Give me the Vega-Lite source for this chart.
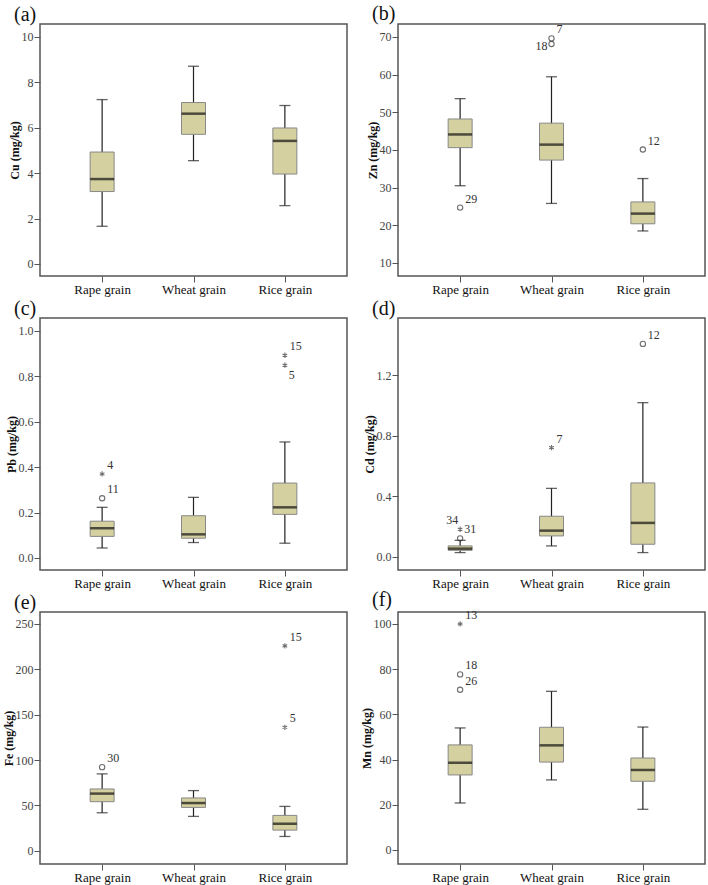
{
  "$schema": "https://vega.github.io/schema/vega-lite/v6.json",
  "background": "white",
  "padding": {"left": 1, "top": 3, "right": 0, "bottom": 0},
  "columns": 2,
  "bounds": "flush",
  "spacing": {"row": 42, "column": 51},
  "datasets": {
    "stats": [
      {"el": "Cu", "grain": "Rape grain", "min": 1.66, "q1": 3.19, "median": 3.74, "q3": 4.93, "max": 7.24},
      {"el": "Cu", "grain": "Wheat grain", "min": 4.55, "q1": 5.71, "median": 6.62, "q3": 7.11, "max": 8.71},
      {"el": "Cu", "grain": "Rice grain", "min": 2.57, "q1": 3.96, "median": 5.42, "q3": 5.99, "max": 6.98},
      {"el": "Zn", "grain": "Rape grain", "min": 30.5, "q1": 40.6, "median": 44.1, "q3": 48.2, "max": 53.6},
      {"el": "Zn", "grain": "Wheat grain", "min": 25.8, "q1": 37.3, "median": 41.4, "q3": 47.1, "max": 59.4},
      {"el": "Zn", "grain": "Rice grain", "min": 18.5, "q1": 20.4, "median": 23.1, "q3": 26.2, "max": 32.4},
      {"el": "Pb", "grain": "Rape grain", "min": 0.044, "q1": 0.095, "median": 0.131, "q3": 0.162, "max": 0.223},
      {"el": "Pb", "grain": "Wheat grain", "min": 0.068, "q1": 0.087, "median": 0.104, "q3": 0.186, "max": 0.267},
      {"el": "Pb", "grain": "Rice grain", "min": 0.065, "q1": 0.192, "median": 0.223, "q3": 0.33, "max": 0.511},
      {"el": "Cd", "grain": "Rape grain", "min": 0.029, "q1": 0.044, "median": 0.055, "q3": 0.073, "max": 0.11},
      {"el": "Cd", "grain": "Wheat grain", "min": 0.073, "q1": 0.139, "median": 0.174, "q3": 0.269, "max": 0.453},
      {"el": "Cd", "grain": "Rice grain", "min": 0.029, "q1": 0.084, "median": 0.225, "q3": 0.489, "max": 1.019},
      {"el": "Fe", "grain": "Rape grain", "min": 42.0, "q1": 54.2, "median": 63.1, "q3": 68.2, "max": 84.8},
      {"el": "Fe", "grain": "Wheat grain", "min": 38.0, "q1": 47.9, "median": 52.7, "q3": 58.3, "max": 66.4},
      {"el": "Fe", "grain": "Rice grain", "min": 15.9, "q1": 22.9, "median": 29.9, "q3": 39.1, "max": 49.0},
      {"el": "Mn", "grain": "Rape grain", "min": 20.8, "q1": 33.2, "median": 38.6, "q3": 46.5, "max": 54.0},
      {"el": "Mn", "grain": "Wheat grain", "min": 31.0, "q1": 38.9, "median": 46.3, "q3": 54.3, "max": 70.2},
      {"el": "Mn", "grain": "Rice grain", "min": 18.0, "q1": 30.4, "median": 35.4, "q3": 40.7, "max": 54.4}
    ],
    "out": [
      {"el": "Zn", "grain": "Rape grain", "value": 24.7, "kind": "outlier", "label": "29"},
      {"el": "Zn", "grain": "Wheat grain", "value": 68.1, "kind": "outlier", "label": "18"},
      {"el": "Zn", "grain": "Wheat grain", "value": 69.6, "kind": "outlier", "label": "7"},
      {"el": "Zn", "grain": "Rice grain", "value": 40.1, "kind": "outlier", "label": "12"},
      {"el": "Pb", "grain": "Rape grain", "value": 0.263, "kind": "outlier", "label": "11"},
      {"el": "Pb", "grain": "Rape grain", "value": 0.37, "kind": "extreme", "label": "4"},
      {"el": "Pb", "grain": "Rice grain", "value": 0.893, "kind": "extreme", "label": "15"},
      {"el": "Pb", "grain": "Rice grain", "value": 0.849, "kind": "extreme", "label": "5"},
      {"el": "Cd", "grain": "Rape grain", "value": 0.123, "kind": "outlier", "label": "34"},
      {"el": "Cd", "grain": "Rape grain", "value": 0.183, "kind": "extreme", "label": "31"},
      {"el": "Cd", "grain": "Wheat grain", "value": 0.722, "kind": "extreme", "label": "7"},
      {"el": "Cd", "grain": "Rice grain", "value": 1.407, "kind": "outlier", "label": "12"},
      {"el": "Fe", "grain": "Rape grain", "value": 92.2, "kind": "outlier", "label": "30"},
      {"el": "Fe", "grain": "Rice grain", "value": 225.7, "kind": "extreme", "label": "15"},
      {"el": "Fe", "grain": "Rice grain", "value": 136.1, "kind": "extreme", "label": "5"},
      {"el": "Mn", "grain": "Rape grain", "value": 100.0, "kind": "extreme", "label": "13"},
      {"el": "Mn", "grain": "Rape grain", "value": 77.7, "kind": "outlier", "label": "18"},
      {"el": "Mn", "grain": "Rape grain", "value": 70.9, "kind": "outlier", "label": "26"}
    ]
  },
  "concat": [
    {
      "title": {"text": "(a)"},
      "width": 307, "height": 252,
      "encoding": {"x": {"field": "grain", "type": "nominal", "sort": ["Rape grain", "Wheat grain", "Rice grain"], "scale": {"type": "point", "padding": 0.68}, "axis": {"title": null}}},
      "layer": [
        {"data": {"name": "stats"}, "transform": [{"filter": "datum.el==='Cu'"}], "mark": {"type": "rule", "color": "#222", "strokeWidth": 1.2},
         "encoding": {"y": {"field": "min", "type": "quantitative", "scale": {"domain": [-0.53, 10.57], "nice": false, "zero": false}, "axis": {"title": "Cu (mg/kg)", "values": [0, 2, 4, 6, 8, 10]}}, "y2": {"field": "max"}}},
        {"data": {"name": "stats"}, "transform": [{"filter": "datum.el==='Cu'"}], "mark": {"type": "bar", "size": 24, "fill": "#d5d09f", "stroke": "#888", "strokeWidth": 1},
         "encoding": {"y": {"field": "q1", "type": "quantitative"}, "y2": {"field": "q3"}}},
        {"data": {"name": "stats"}, "transform": [{"filter": "datum.el==='Cu'"}], "mark": {"type": "tick", "size": 24, "thickness": 2.5, "color": "#111"},
         "encoding": {"y": {"field": "median", "type": "quantitative"}}},
        {"data": {"name": "stats"}, "transform": [{"filter": "datum.el==='Cu'"}], "mark": {"type": "tick", "size": 11, "thickness": 1.3, "color": "#222"},
         "encoding": {"y": {"field": "min", "type": "quantitative"}}},
        {"data": {"name": "stats"}, "transform": [{"filter": "datum.el==='Cu'"}], "mark": {"type": "tick", "size": 11, "thickness": 1.3, "color": "#222"},
         "encoding": {"y": {"field": "max", "type": "quantitative"}}}
      ]
    },
    {
      "title": {"text": "(b)"},
      "width": 307, "height": 252,
      "encoding": {"x": {"field": "grain", "type": "nominal", "sort": ["Rape grain", "Wheat grain", "Rice grain"], "scale": {"type": "point", "padding": 0.68}, "axis": {"title": null}}},
      "layer": [
        {"data": {"name": "stats"}, "transform": [{"filter": "datum.el==='Zn'"}], "mark": {"type": "rule", "color": "#222", "strokeWidth": 1.2},
         "encoding": {"y": {"field": "min", "type": "quantitative", "scale": {"domain": [6.55, 73.4], "nice": false, "zero": false}, "axis": {"title": "Zn (mg/kg)", "values": [10, 20, 30, 40, 50, 60, 70]}}, "y2": {"field": "max"}}},
        {"data": {"name": "stats"}, "transform": [{"filter": "datum.el==='Zn'"}], "mark": {"type": "bar", "size": 24, "fill": "#d5d09f", "stroke": "#888", "strokeWidth": 1},
         "encoding": {"y": {"field": "q1", "type": "quantitative"}, "y2": {"field": "q3"}}},
        {"data": {"name": "stats"}, "transform": [{"filter": "datum.el==='Zn'"}], "mark": {"type": "tick", "size": 24, "thickness": 2.5, "color": "#111"},
         "encoding": {"y": {"field": "median", "type": "quantitative"}}},
        {"data": {"name": "stats"}, "transform": [{"filter": "datum.el==='Zn'"}], "mark": {"type": "tick", "size": 11, "thickness": 1.3, "color": "#222"},
         "encoding": {"y": {"field": "min", "type": "quantitative"}}},
        {"data": {"name": "stats"}, "transform": [{"filter": "datum.el==='Zn'"}], "mark": {"type": "tick", "size": 11, "thickness": 1.3, "color": "#222"},
         "encoding": {"y": {"field": "max", "type": "quantitative"}}},
        {"data": {"name": "out"}, "transform": [{"filter": "datum.el==='Zn'"}], "mark": {"type": "point", "filled": false, "size": 28, "strokeWidth": 1.1, "color": "#333"},
         "encoding": {"y": {"field": "value", "type": "quantitative"}, "shape": {"field": "kind", "type": "nominal", "scale": {"domain": ["outlier", "extreme"], "range": ["circle", "M0,-1L0,1M-0.87,-0.5L0.87,0.5M-0.87,0.5L0.87,-0.5"]}, "legend": null}}},
        {"data": {"name": "out"}, "transform": [{"filter": "datum.el==='Zn' && datum.label!=='18'"}], "mark": {"type": "text", "align": "left", "baseline": "alphabetic", "dx": 5, "dy": -5, "fontSize": 12, "color": "#333"},
         "encoding": {"y": {"field": "value", "type": "quantitative"}, "text": {"field": "label"}}},
        {"data": {"name": "out"}, "transform": [{"filter": "datum.el==='Zn' && datum.label==='18'"}], "mark": {"type": "text", "align": "right", "baseline": "alphabetic", "dx": -4, "dy": 6, "fontSize": 12, "color": "#333"},
         "encoding": {"y": {"field": "value", "type": "quantitative"}, "text": {"field": "label"}}}
      ]
    },
    {
      "title": {"text": "(c)"},
      "width": 307, "height": 252,
      "encoding": {"x": {"field": "grain", "type": "nominal", "sort": ["Rape grain", "Wheat grain", "Rice grain"], "scale": {"type": "point", "padding": 0.68}, "axis": {"title": null}}},
      "layer": [
        {"data": {"name": "stats"}, "transform": [{"filter": "datum.el==='Pb'"}], "mark": {"type": "rule", "color": "#222", "strokeWidth": 1.2},
         "encoding": {"y": {"field": "min", "type": "quantitative", "scale": {"domain": [-0.053, 1.057], "nice": false, "zero": false}, "axis": {"title": "Pb (mg/kg)", "values": [0, 0.2, 0.4, 0.6, 0.8, 1.0], "format": ".1f"}}, "y2": {"field": "max"}}},
        {"data": {"name": "stats"}, "transform": [{"filter": "datum.el==='Pb'"}], "mark": {"type": "bar", "size": 24, "fill": "#d5d09f", "stroke": "#888", "strokeWidth": 1},
         "encoding": {"y": {"field": "q1", "type": "quantitative"}, "y2": {"field": "q3"}}},
        {"data": {"name": "stats"}, "transform": [{"filter": "datum.el==='Pb'"}], "mark": {"type": "tick", "size": 24, "thickness": 2.5, "color": "#111"},
         "encoding": {"y": {"field": "median", "type": "quantitative"}}},
        {"data": {"name": "stats"}, "transform": [{"filter": "datum.el==='Pb'"}], "mark": {"type": "tick", "size": 11, "thickness": 1.3, "color": "#222"},
         "encoding": {"y": {"field": "min", "type": "quantitative"}}},
        {"data": {"name": "stats"}, "transform": [{"filter": "datum.el==='Pb'"}], "mark": {"type": "tick", "size": 11, "thickness": 1.3, "color": "#222"},
         "encoding": {"y": {"field": "max", "type": "quantitative"}}},
        {"data": {"name": "out"}, "transform": [{"filter": "datum.el==='Pb'"}], "mark": {"type": "point", "filled": false, "size": 28, "strokeWidth": 1.1, "color": "#333"},
         "encoding": {"y": {"field": "value", "type": "quantitative"}, "shape": {"field": "kind", "type": "nominal", "scale": {"domain": ["outlier", "extreme"], "range": ["circle", "M0,-1L0,1M-0.87,-0.5L0.87,0.5M-0.87,0.5L0.87,-0.5"]}, "legend": null}}},
        {"data": {"name": "out"}, "transform": [{"filter": "datum.el==='Pb' && datum.label!=='5'"}], "mark": {"type": "text", "align": "left", "baseline": "alphabetic", "dx": 5, "dy": -5, "fontSize": 12, "color": "#333"},
         "encoding": {"y": {"field": "value", "type": "quantitative"}, "text": {"field": "label"}}},
        {"data": {"name": "out"}, "transform": [{"filter": "datum.el==='Pb' && datum.label==='5'"}], "mark": {"type": "text", "align": "left", "baseline": "top", "dx": 4, "dy": 5, "fontSize": 12, "color": "#333"},
         "encoding": {"y": {"field": "value", "type": "quantitative"}, "text": {"field": "label"}}}
      ]
    },
    {
      "title": {"text": "(d)"},
      "width": 307, "height": 252,
      "encoding": {"x": {"field": "grain", "type": "nominal", "sort": ["Rape grain", "Wheat grain", "Rice grain"], "scale": {"type": "point", "padding": 0.68}, "axis": {"title": null}}},
      "layer": [
        {"data": {"name": "stats"}, "transform": [{"filter": "datum.el==='Cd'"}], "mark": {"type": "rule", "color": "#222", "strokeWidth": 1.2},
         "encoding": {"y": {"field": "min", "type": "quantitative", "scale": {"domain": [-0.086, 1.578], "nice": false, "zero": false}, "axis": {"title": "Cd (mg/kg)", "values": [0, 0.2, 0.4, 0.6, 0.8, 1.0, 1.2, 1.4], "format": ".1f"}}, "y2": {"field": "max"}}},
        {"data": {"name": "stats"}, "transform": [{"filter": "datum.el==='Cd'"}], "mark": {"type": "bar", "size": 24, "fill": "#d5d09f", "stroke": "#888", "strokeWidth": 1},
         "encoding": {"y": {"field": "q1", "type": "quantitative"}, "y2": {"field": "q3"}}},
        {"data": {"name": "stats"}, "transform": [{"filter": "datum.el==='Cd'"}], "mark": {"type": "tick", "size": 24, "thickness": 2.5, "color": "#111"},
         "encoding": {"y": {"field": "median", "type": "quantitative"}}},
        {"data": {"name": "stats"}, "transform": [{"filter": "datum.el==='Cd'"}], "mark": {"type": "tick", "size": 11, "thickness": 1.3, "color": "#222"},
         "encoding": {"y": {"field": "min", "type": "quantitative"}}},
        {"data": {"name": "stats"}, "transform": [{"filter": "datum.el==='Cd'"}], "mark": {"type": "tick", "size": 11, "thickness": 1.3, "color": "#222"},
         "encoding": {"y": {"field": "max", "type": "quantitative"}}},
        {"data": {"name": "out"}, "transform": [{"filter": "datum.el==='Cd'"}], "mark": {"type": "point", "filled": false, "size": 28, "strokeWidth": 1.1, "color": "#333"},
         "encoding": {"y": {"field": "value", "type": "quantitative"}, "shape": {"field": "kind", "type": "nominal", "scale": {"domain": ["outlier", "extreme"], "range": ["circle", "M0,-1L0,1M-0.87,-0.5L0.87,0.5M-0.87,0.5L0.87,-0.5"]}, "legend": null}}},
        {"data": {"name": "out"}, "transform": [{"filter": "datum.el==='Cd' && datum.label!=='34' && datum.label!=='31'"}], "mark": {"type": "text", "align": "left", "baseline": "alphabetic", "dx": 5, "dy": -5, "fontSize": 12, "color": "#333"},
         "encoding": {"y": {"field": "value", "type": "quantitative"}, "text": {"field": "label"}}},
        {"data": {"name": "out"}, "transform": [{"filter": "datum.el==='Cd' && datum.label==='34'"}], "mark": {"type": "text", "align": "right", "baseline": "alphabetic", "dx": -2, "dy": -14, "fontSize": 12, "color": "#333"},
         "encoding": {"y": {"field": "value", "type": "quantitative"}, "text": {"field": "label"}}},
        {"data": {"name": "out"}, "transform": [{"filter": "datum.el==='Cd' && datum.label==='31'"}], "mark": {"type": "text", "align": "left", "baseline": "middle", "dx": 4, "dy": 0, "fontSize": 12, "color": "#333"},
         "encoding": {"y": {"field": "value", "type": "quantitative"}, "text": {"field": "label"}}}
      ]
    },
    {
      "title": {"text": "(e)"},
      "width": 307, "height": 252,
      "encoding": {"x": {"field": "grain", "type": "nominal", "sort": ["Rape grain", "Wheat grain", "Rice grain"], "scale": {"type": "point", "padding": 0.68}, "axis": {"title": null}}},
      "layer": [
        {"data": {"name": "stats"}, "transform": [{"filter": "datum.el==='Fe'"}], "mark": {"type": "rule", "color": "#222", "strokeWidth": 1.2},
         "encoding": {"y": {"field": "min", "type": "quantitative", "scale": {"domain": [-14.4, 263], "nice": false, "zero": false}, "axis": {"title": "Fe (mg/kg)", "values": [0, 50, 100, 150, 200, 250]}}, "y2": {"field": "max"}}},
        {"data": {"name": "stats"}, "transform": [{"filter": "datum.el==='Fe'"}], "mark": {"type": "bar", "size": 24, "fill": "#d5d09f", "stroke": "#888", "strokeWidth": 1},
         "encoding": {"y": {"field": "q1", "type": "quantitative"}, "y2": {"field": "q3"}}},
        {"data": {"name": "stats"}, "transform": [{"filter": "datum.el==='Fe'"}], "mark": {"type": "tick", "size": 24, "thickness": 2.5, "color": "#111"},
         "encoding": {"y": {"field": "median", "type": "quantitative"}}},
        {"data": {"name": "stats"}, "transform": [{"filter": "datum.el==='Fe'"}], "mark": {"type": "tick", "size": 11, "thickness": 1.3, "color": "#222"},
         "encoding": {"y": {"field": "min", "type": "quantitative"}}},
        {"data": {"name": "stats"}, "transform": [{"filter": "datum.el==='Fe'"}], "mark": {"type": "tick", "size": 11, "thickness": 1.3, "color": "#222"},
         "encoding": {"y": {"field": "max", "type": "quantitative"}}},
        {"data": {"name": "out"}, "transform": [{"filter": "datum.el==='Fe'"}], "mark": {"type": "point", "filled": false, "size": 28, "strokeWidth": 1.1, "color": "#333"},
         "encoding": {"y": {"field": "value", "type": "quantitative"}, "shape": {"field": "kind", "type": "nominal", "scale": {"domain": ["outlier", "extreme"], "range": ["circle", "M0,-1L0,1M-0.87,-0.5L0.87,0.5M-0.87,0.5L0.87,-0.5"]}, "legend": null}}},
        {"data": {"name": "out"}, "transform": [{"filter": "datum.el==='Fe'"}], "mark": {"type": "text", "align": "left", "baseline": "alphabetic", "dx": 5, "dy": -5, "fontSize": 12, "color": "#333"},
         "encoding": {"y": {"field": "value", "type": "quantitative"}, "text": {"field": "label"}}}
      ]
    },
    {
      "title": {"text": "(f)"},
      "width": 307, "height": 252,
      "encoding": {"x": {"field": "grain", "type": "nominal", "sort": ["Rape grain", "Wheat grain", "Rice grain"], "scale": {"type": "point", "padding": 0.68}, "axis": {"title": null}}},
      "layer": [
        {"data": {"name": "stats"}, "transform": [{"filter": "datum.el==='Mn'"}], "mark": {"type": "rule", "color": "#222", "strokeWidth": 1.2},
         "encoding": {"y": {"field": "min", "type": "quantitative", "scale": {"domain": [-6.2, 105.3], "nice": false, "zero": false}, "axis": {"title": "Mn (mg/kg)", "values": [0, 20, 40, 60, 80, 100]}}, "y2": {"field": "max"}}},
        {"data": {"name": "stats"}, "transform": [{"filter": "datum.el==='Mn'"}], "mark": {"type": "bar", "size": 24, "fill": "#d5d09f", "stroke": "#888", "strokeWidth": 1},
         "encoding": {"y": {"field": "q1", "type": "quantitative"}, "y2": {"field": "q3"}}},
        {"data": {"name": "stats"}, "transform": [{"filter": "datum.el==='Mn'"}], "mark": {"type": "tick", "size": 24, "thickness": 2.5, "color": "#111"},
         "encoding": {"y": {"field": "median", "type": "quantitative"}}},
        {"data": {"name": "stats"}, "transform": [{"filter": "datum.el==='Mn'"}], "mark": {"type": "tick", "size": 11, "thickness": 1.3, "color": "#222"},
         "encoding": {"y": {"field": "min", "type": "quantitative"}}},
        {"data": {"name": "stats"}, "transform": [{"filter": "datum.el==='Mn'"}], "mark": {"type": "tick", "size": 11, "thickness": 1.3, "color": "#222"},
         "encoding": {"y": {"field": "max", "type": "quantitative"}}},
        {"data": {"name": "out"}, "transform": [{"filter": "datum.el==='Mn'"}], "mark": {"type": "point", "filled": false, "size": 28, "strokeWidth": 1.1, "color": "#333"},
         "encoding": {"y": {"field": "value", "type": "quantitative"}, "shape": {"field": "kind", "type": "nominal", "scale": {"domain": ["outlier", "extreme"], "range": ["circle", "M0,-1L0,1M-0.87,-0.5L0.87,0.5M-0.87,0.5L0.87,-0.5"]}, "legend": null}}},
        {"data": {"name": "out"}, "transform": [{"filter": "datum.el==='Mn'"}], "mark": {"type": "text", "align": "left", "baseline": "alphabetic", "dx": 5, "dy": -5, "fontSize": 12, "color": "#333"},
         "encoding": {"y": {"field": "value", "type": "quantitative"}, "text": {"field": "label"}}}
      ]
    }
  ],
  "config": {
    "font": "Liberation Serif",
    "view": {"stroke": "#555", "strokeWidth": 1.5},
    "axis": {"grid": false, "domain": false, "labelFont": "Liberation Serif", "labelFontSize": 12, "titleFont": "Liberation Serif", "titleFontWeight": "bold", "titleFontSize": 12, "titleColor": "#111", "titlePadding": 0, "tickColor": "#555", "tickSize": 6, "labelPadding": 1, "labelColor": "#444"},
    "axisX": {"labelAngle": 0, "labelColor": "#111", "labelFontSize": 13, "labelPadding": 1, "tickSize": 6},
    "title": {"font": "Liberation Serif", "fontSize": 20, "fontWeight": "normal", "anchor": "start", "frame": "group", "dx": -26, "offset": -1, "color": "#111"}
  }
}
